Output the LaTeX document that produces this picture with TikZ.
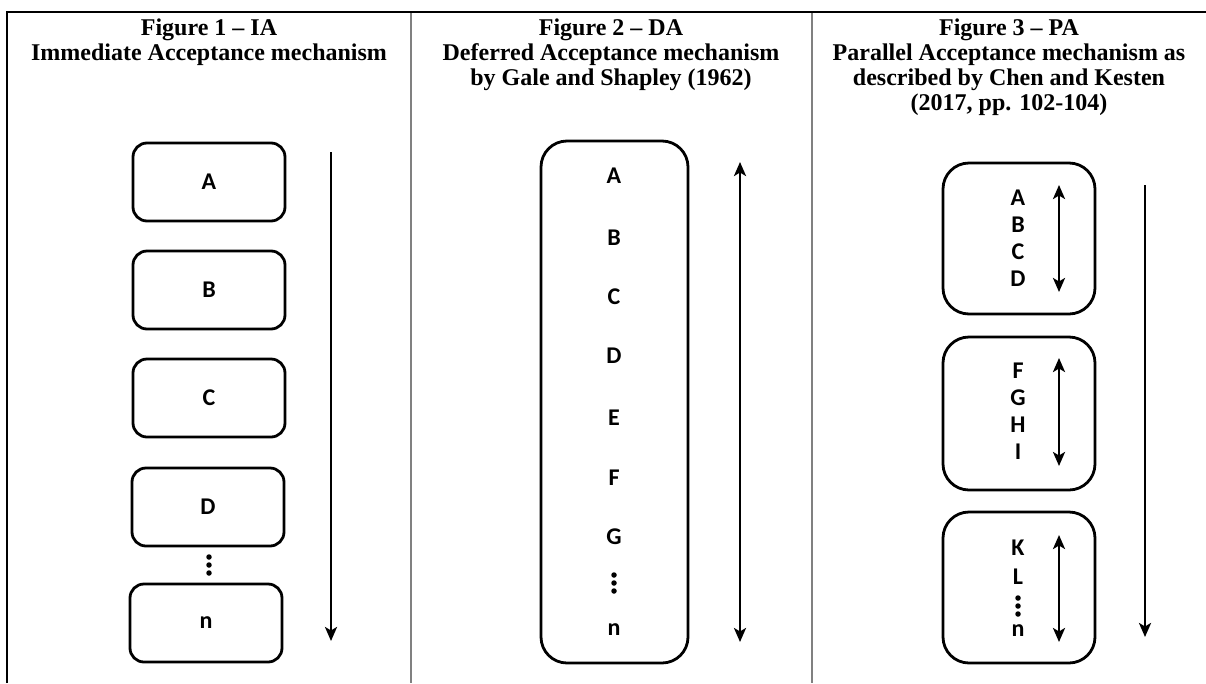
\documentclass[tikz,border=0pt]{standalone}
\usepackage{fontspec}
\setmainfont{Liberation Serif}
\newfontfamily\boxfont{Carlito}
\usetikzlibrary{arrows.meta}
\begin{document}
\begin{tikzpicture}[x=1pt,y=-1pt,
  frame/.style={line width=2pt, line join=miter},
  divider/.style={line width=2.2pt, draw=black!50},
  title/.style={font=\fontsize{24}{28}\selectfont\bfseries, inner sep=0, anchor=base},
  itembox/.style={draw, line width=2.8pt, rounded corners=14pt, minimum width=152pt, minimum height=78pt, inner sep=0, font=\boxfont\fontsize{24}{24}\selectfont\bfseries},
  bigbox/.style={draw, line width=2.8pt, rounded corners=26pt, inner sep=0},
  letter/.style={font=\boxfont\fontsize{24}{24}\selectfont\bfseries, inner sep=0},
  vdot/.style={circle, fill, inner sep=0, minimum size=5.5pt},
  flow/.style={line width=2.6pt, -{Stealth[length=14pt,width=12pt,inset=3.5pt]}},
  both/.style={line width=2.6pt, {Stealth[length=14pt,width=12pt,inset=3.5pt]}-{Stealth[length=14pt,width=12pt,inset=3.5pt]}}]
\useasboundingbox (0,0) rectangle (1206,683);
% frame
\draw[frame] (7,683) -- (7,12) -- (1206,12);
\draw[divider] (411,13) -- (411,683);
\draw[divider] (812,13) -- (812,683);
% titles
\node[title] (t1a) at (209,35) {Figure 1 -- IA};
\node[title] (t1b) at (209,60.3) {Immediate Acceptance mechanism};
\node[title] (t2a) at (611,35) {Figure 2 -- DA};
\node[title] (t2b) at (611,60.3) {Deferred Acceptance mechanism};
\node[title] (t2c) at (611,85.6) {by Gale and Shapley (1962)};
\node[title] (t3a) at (1009,35) {Figure 3 -- PA};
\node[title] (t3b) at (1009,60.3) {Parallel Acceptance mechanism as};
\node[title] (t3c) at (1009,85.6) {described by Chen and Kesten};
\node[title] (t3d) at (1009,110.9) {(2017, pp. 102-104)};
% Figure 1
\node[itembox] (ia) at (209,182) {A};
\node[itembox] (ib) at (209,290) {B};
\node[itembox] (ic) at (209,398) {C};
\node[itembox] (id) at (208,507) {D};
\node[itembox] (in) at (206,623) {n};
\node[vdot] (d1a) at (209,557) {};
\node[vdot] (d1b) at (209,565) {};
\node[vdot] (d1c) at (209,573) {};
\coordinate (f1s) at (331,152);
\coordinate (f1e) at (331,641);
\draw[flow] (f1s) -- (f1e);
% Figure 2
\node[bigbox, minimum width=147pt, minimum height=522pt] (da) at (614.5,402) {};
\node[letter] (la) at (614,176) {A};
\node[letter] (lb) at (614,238) {B};
\node[letter] (lc) at (614,297) {C};
\node[letter] (ld) at (614,356) {D};
\node[letter] (le) at (614,418) {E};
\node[letter] (lf) at (614,478) {F};
\node[letter] (lg) at (614,537) {G};
\node[vdot] (d2a) at (614,575) {};
\node[vdot] (d2b) at (614,583) {};
\node[vdot] (d2c) at (614,591) {};
\node[letter] (ln) at (614,630) {n};
\coordinate (f2s) at (740,162);
\coordinate (f2e) at (740,642);
\draw[both] (f2s) -- (f2e);
% Figure 3
\node[bigbox, minimum width=152pt, minimum height=151pt] (pa1) at (1019,238.5) {};
\node[bigbox, minimum width=152pt, minimum height=153pt] (pa2) at (1019,413.5) {};
\node[bigbox, minimum width=152pt, minimum height=151pt] (pa3) at (1019,587.5) {};
\node[letter] (pA) at (1018,198) {A};
\node[letter] (pB) at (1018,225) {B};
\node[letter] (pC) at (1018,252) {C};
\node[letter] (pD) at (1018,279) {D};
\node[letter] (pF) at (1018,371) {F};
\node[letter] (pG) at (1018,398) {G};
\node[letter] (pH) at (1018,425) {H};
\node[letter] (pI) at (1018,452) {I};
\node[letter] (pK) at (1018,548) {K};
\node[letter] (pL) at (1018,577) {L};
\node[vdot] (d3a) at (1018,598) {};
\node[vdot] (d3b) at (1018,606) {};
\node[vdot] (d3c) at (1018,614) {};
\node[letter] (pn) at (1018,631) {n};
\coordinate (g1s) at (1059,185);
\coordinate (g1e) at (1059,292);
\coordinate (g2s) at (1059,358);
\coordinate (g2e) at (1059,466);
\coordinate (g3s) at (1059,535);
\coordinate (g3e) at (1059,642);
\draw[both] (g1s) -- (g1e);
\draw[both] (g2s) -- (g2e);
\draw[both] (g3s) -- (g3e);
\coordinate (f3s) at (1145,185);
\coordinate (f3e) at (1145,637);
\draw[flow] (f3s) -- (f3e);
\end{tikzpicture}
\end{document}
